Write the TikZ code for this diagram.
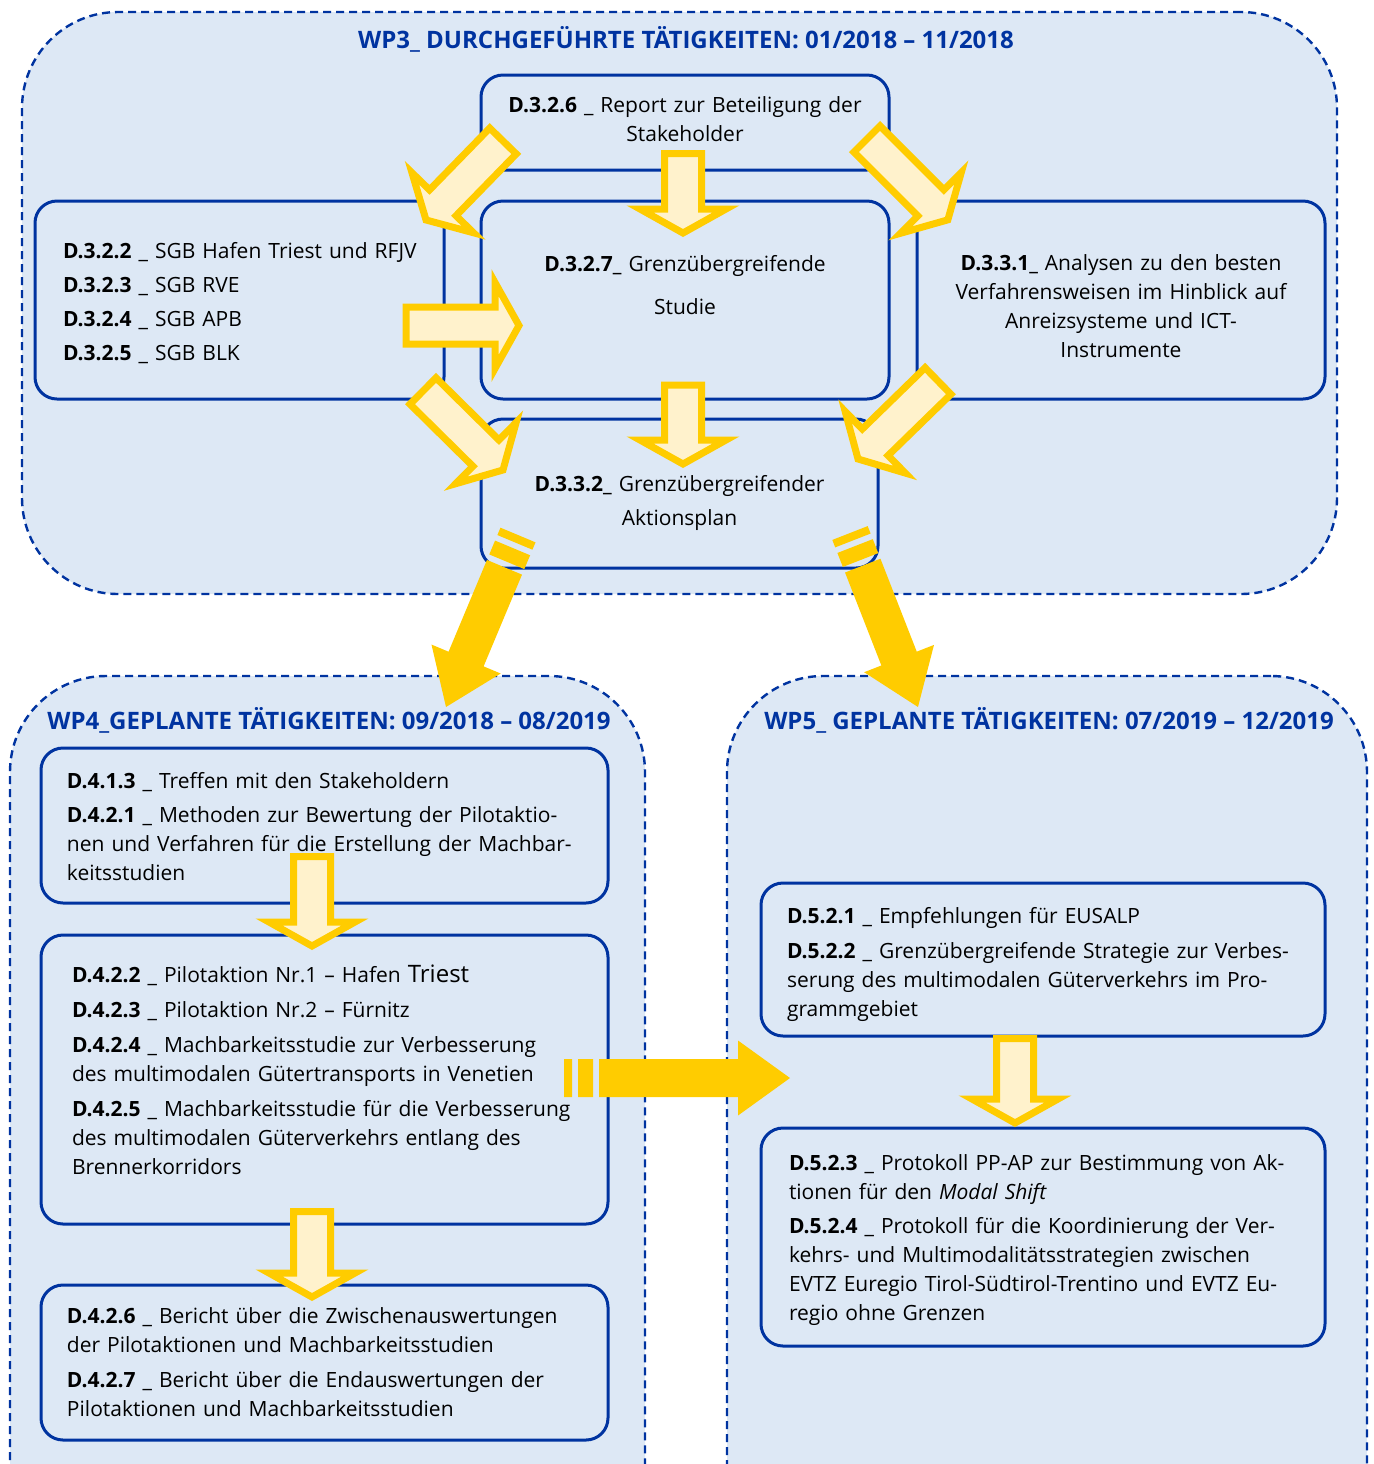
\documentclass[tikz,border=0pt]{standalone}
\usepackage{fontspec}
\setmainfont{Open Sans}
\usepackage{tikz}
\usetikzlibrary{calc}
\definecolor{wpblue}{RGB}{0,51,160}
\definecolor{wpfill}{RGB}{221,232,245}
\definecolor{arrowyellow}{RGB}{255,204,0}
\definecolor{arrowpale}{RGB}{255,242,204}
\tikzset{
region/.style = {rectangle, draw=wpblue, fill=wpfill, line width=1.2pt, dash pattern=on 4pt off 2.5pt, rounded corners=48pt, outer sep=0pt},
wptitle/.style = {text=wpblue, font=\fontsize{12}{14}\selectfont\bfseries, inner sep=0pt},
deliv/.style = {rectangle, draw=wpblue, fill=wpfill, line width=1.5pt, rounded corners=11pt, inner xsep=13pt, inner ysep=0pt, outer sep=0pt, font=\fontsize{10.5}{14.5}\selectfont},
hollowarr/.style = {draw=arrowyellow, fill=arrowpale, line width=3.5pt, line join=miter},
bigarr/.style = {fill=arrowyellow}
}
% block arrow from #1 (tail) to #2 (tip)
\newcommand{\hollowarrow}[2]{%
  \path[hollowarr] let \p1=(#1), \p2=(#2), \n1={atan2(\y2-\y1,\x2-\x1)}, \n2={veclen(\x2-\x1,\y2-\y1)} in
    [shift={(\p1)}, rotate=\n1]
    (0pt,-9.25pt) -- ({\n2*1pt-12pt},-9.25pt) -- ({\n2*1pt-12pt},-21.5pt) -- ({\n2*1pt},0pt)
    -- ({\n2*1pt-12pt},21.5pt) -- ({\n2*1pt-12pt},9.25pt) -- (0pt,9.25pt) -- cycle;}
% filled arrow with two bars at the tail
\newcommand{\stripedarrow}[2]{%
  \path[bigarr] let \p1=(#1), \p2=(#2), \n1={atan2(\y2-\y1,\x2-\x1)}, \n2={veclen(\x2-\x1,\y2-\y1)} in
    [shift={(\p1)}, rotate=\n1]
    (0pt,-9.5pt) -- (4pt,-9.5pt) -- (4pt,9.5pt) -- (0pt,9.5pt) -- cycle
    (7pt,-9.5pt) -- (14.5pt,-9.5pt) -- (14.5pt,9.5pt) -- (7pt,9.5pt) -- cycle
    (17.5pt,-9.5pt) -- ({\n2*1pt-26pt},-9.5pt) -- ({\n2*1pt-26pt},-18.75pt) -- ({\n2*1pt},0pt)
    -- ({\n2*1pt-26pt},18.75pt) -- ({\n2*1pt-26pt},9.5pt) -- (17.5pt,9.5pt) -- cycle;}

\begin{document}
\begin{tikzpicture}[x=0.5pt, y=-0.5pt]
    \path[use as bounding box, clip] (0,0) rectangle (1374,1464);

    % work packages
    \node [region, minimum width=657.5pt, minimum height=291pt] (wp3) at (679.5,303) {};
    \node [region, minimum width=317.5pt, minimum height=442pt] (wp4) at (327.5,1118) {};
    \node [region, minimum width=320pt, minimum height=442pt] (wp5) at (1047,1118) {};
    \node [wptitle] (wp3title) at (686,39) {WP3\_ DURCHGEFÜHRTE TÄTIGKEITEN: 01/2018 – 11/2018};
    \node [wptitle] (wp4title) at (329,720) {WP4\_GEPLANTE TÄTIGKEITEN: 09/2018 – 08/2019};
    \node [wptitle] (wp5title) at (1049,720) {WP5\_ GEPLANTE TÄTIGKEITEN: 07/2019 – 12/2019};

    % WP3
    \node [deliv, minimum width=204pt, minimum height=47.5pt, text width=178pt, align=center] (d326) at (685,122.5)
        {\textbf{D.3.2.6} \_ Report zur Beteiligung der\\Stakeholder\rule[-3pt]{0pt}{1pt}};
    \node [deliv, minimum width=204.5pt, minimum height=99pt, inner xsep=14pt, text width=176.5pt, align=left] (d322) at (239.5,300)
        {\mbox{\textbf{D.3.2.2} \_ SGB Hafen Triest und RFJV}\rule{0pt}{11.5pt}\\[2.5pt]\textbf{D.3.2.3} \_ SGB RVE\\[2.5pt]\textbf{D.3.2.4} \_ SGB APB\\[2.5pt]\textbf{D.3.2.5} \_ SGB BLK};
    \node [deliv, minimum width=204pt, minimum height=99pt, text width=178pt, align=center] (d327) at (685,300)
        {\textbf{D.3.2.7\_} Grenzübergreifende\\[7pt]Studie\rule[-15.5pt]{0pt}{1pt}};
    \node [deliv, minimum width=204pt, minimum height=99pt, text width=178pt, align=center] (d331) at (1121,300)
        {\textbf{D.3.3.1\_} Analysen zu den besten\rule{0pt}{14.5pt}\\Verfahrensweisen im Hinblick auf\\Anreizsysteme und ICT-\\Instrumente};
    \node [deliv, minimum width=198.5pt, minimum height=74.5pt, text width=172.5pt, align=center] (d332) at (679.5,493.5)
        {\textbf{D.3.3.2\_} Grenzübergreifender\rule{0pt}{17.5pt}\\[2.5pt]Aktionsplan};

    % WP4
    \node [deliv, minimum width=283.5pt, minimum height=77.5pt, text width=257.5pt, align=left] (d413) at (324.5,825.5)
        {\textbf{D.4.1.3} \_ Treffen mit den Stakeholdern\rule{0pt}{9pt}\\[2.5pt]\textbf{D.4.2.1} \_ Methoden zur Bewertung der Pilotaktio-\\nen und Verfahren für die Erstellung der Machbar-\\keitsstudien};
    \node [deliv, minimum width=283.5pt, minimum height=144.5pt, inner xsep=15.5pt, text width=252.5pt, align=left] (d422) at (324.5,1079.5)
        {\textbf{D.4.2.2} \_ Pilotaktion Nr.1 – Hafen {\fontsize{12}{14.5}\selectfont Triest}\\[3pt]\textbf{D.4.2.3} \_ Pilotaktion Nr.2 – Fürnitz\\[3pt]\textbf{D.4.2.4} \_ Machbarkeitsstudie zur Verbesserung\\des multimodalen Gütertransports in Venetien\\[3pt]\textbf{D.4.2.5} \_ Machbarkeitsstudie für die Verbesserung\\des multimodalen Güterverkehrs entlang des\\Brennerkorridors\rule[-10pt]{0pt}{1pt}};
    \node [deliv, minimum width=283.5pt, minimum height=77.5pt, text width=257.5pt, align=left] (d426) at (324.5,1362.5)
        {\textbf{D.4.2.6} \_ Bericht über die Zwischenauswertungen\\der Pilotaktionen und Machbarkeitsstudien\\[3pt]\textbf{D.4.2.7} \_ Bericht über die Endauswertungen der\\Pilotaktionen und Machbarkeitsstudien};

    % WP5
    \node [deliv, minimum width=282pt, minimum height=76.5pt, text width=256pt, align=left] (d521) at (1043,959.5)
        {\textbf{D.5.2.1} \_ Empfehlungen für EUSALP\rule{0pt}{13pt}\\[3pt]\textbf{D.5.2.2} \_ Grenzübergreifende Strategie zur Verbes-\\serung des multimodalen Güterverkehrs im Pro-\\grammgebiet};
    \node [deliv, minimum width=282pt, minimum height=109pt, inner xsep=14pt, text width=254pt, align=left] (d523) at (1043,1237)
        {\textbf{D.5.2.3} \_ Protokoll PP-AP zur Bestimmung von Ak-\rule{0pt}{11pt}\\tionen für den \textit{Modal Shift}\\[2.5pt]\textbf{D.5.2.4} \_ Protokoll für die Koordinierung der Ver-\\kehrs- und Multimodalitätsstrategien zwischen\\EVTZ Euregio Tirol-Südtirol-Trentino und EVTZ Eu-\\regio ohne Grenzen};

    % arrows
    \hollowarrow{$(d326.west)+(22,18.5)$}{$(d322.north east)+(-18,19)$}
    \hollowarrow{$(d326.south)+(-2,-16.5)$}{$(d327.north)+(-2,32)$}
    \hollowarrow{$(d326.east)+(-22,16.5)$}{$(d331.north west)+(31,19)$}
    \hollowarrow{$(d322.east)+(-38,25.5)$}{$(d327.west)+(38,25.5)$}
    \hollowarrow{$(d322.south east)+(-21,-8)$}{$(d332.north west)+(22,51)$}
    \hollowarrow{$(d327.south)+(-2,-14)$}{$(d332.north)+(3.5,45)$}
    \hollowarrow{$(d331.south west)+(21,-18)$}{$(d332.north east)+(-20,40)$}
    \hollowarrow{$(d413.south)+(-12.5,-46.5)$}{$(d422.north)+(-12.5,11)$}
    \hollowarrow{$(d422.south)+(-12.5,-12.5)$}{$(d426.north)+(-12.5,12)$}
    \hollowarrow{$(d521.south)+(-28,2.5)$}{$(d523.north)+(-28,-5)$}
    \stripedarrow{$(d332.south west)+(37,-33)$}{$(wp4.north)+(118.5,31)$}
    \stripedarrow{$(d332.south east)+(-28,-35)$}{$(wp5.north)+(-129,31)$}
    \stripedarrow{$(d422.east)+(-44,-1.5)$}{$(wp5.west)+(63,-40)$}
\end{tikzpicture}
\end{document}
